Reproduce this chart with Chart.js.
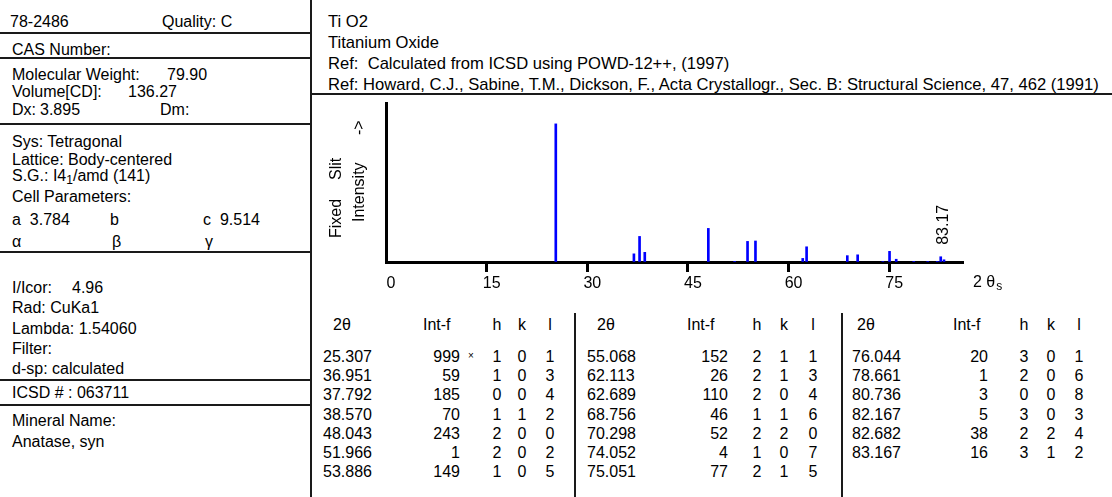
<!DOCTYPE html>
<html>
<head>
<meta charset="utf-8">
<script src="https://cdn.jsdelivr.net/npm/chart.js@4.4.1/dist/chart.umd.min.js"></script>
<style>
    html, body { margin: 0; padding: 0; background: #fff; }
    #card {
        position: relative;
        width: 1112px;
        height: 497px;
        overflow: hidden;
        font-family: "Liberation Sans", Arial, sans-serif;
        font-size: 16px;
        color: #000;
    }
    .t { position: absolute; white-space: nowrap; line-height: 18px; transform: translateY(-50%); }
    .r { transform: translate(-100%, -50%); }
    .c { transform: translate(-50%, -50%); }
    .wide { font-size: 16.6px; }
    .hl { position: absolute; height: 2px; background: #1a1a1a; }
    .vl { position: absolute; width: 2px; background: #1a1a1a; }
    .star { font-size: 10px; vertical-align: 5px; }
    sub { font-size: 12px; vertical-align: -3px; }
    #pattern { position: absolute; left: 312px; top: 96px; }
</style>
</head>
<body>
<div id="card">
    <canvas id="pattern" width="800" height="215"></canvas>
</div>
<script>
'use strict';

// reflection list: 2-theta (deg), relative intensity, Miller indices
var twoTheta = [25.307, 36.951, 37.792, 38.570, 48.043, 51.966, 53.886,
                55.068, 62.113, 62.689, 68.756, 70.298, 74.052, 75.051,
                76.044, 78.661, 80.736, 82.167, 82.682, 83.167];
var intensity = [999, 59, 185, 70, 243, 1, 149,
                 152, 26, 110, 46, 52, 4, 77,
                 20, 1, 3, 5, 38, 16];
var hIdx = [1, 1, 0, 1, 2, 2, 1,  2, 2, 2, 1, 2, 1, 2,  3, 2, 0, 3, 2, 3];
var kIdx = [0, 0, 0, 1, 0, 0, 0,  1, 1, 0, 1, 2, 0, 1,  0, 0, 0, 0, 2, 1];
var lIdx = [1, 3, 4, 2, 0, 2, 5,  1, 3, 4, 6, 0, 7, 5,  1, 6, 8, 3, 4, 2];

var xTicks = [0, 15, 30, 45, 60, 75];
var xMax = 86;
var yMax = 1150;

var card = document.getElementById('card');

function put(html, x, y, cls) {
    var el = document.createElement('div');
    el.className = 't' + (cls ? ' ' + cls : '');
    el.style.left = x + 'px';
    el.style.top = y + 'px';
    el.innerHTML = html;
    card.appendChild(el);
    return el;
}

function hline(x, y, w) {
    var el = document.createElement('div');
    el.className = 'hl';
    el.style.left = x + 'px';
    el.style.top = (y - 1) + 'px';
    el.style.width = w + 'px';
    card.appendChild(el);
}

function vline(x, y, h) {
    var el = document.createElement('div');
    el.className = 'vl';
    el.style.left = (x - 1) + 'px';
    el.style.top = y + 'px';
    el.style.height = h + 'px';
    card.appendChild(el);
}

// left column of the card
put('78-2486', 10, 22);
put('Quality: C', 162, 22);
put('CAS Number:', 12, 50);
put('Molecular Weight:', 12, 75);
put('79.90', 167, 75);
put('Volume[CD]:', 12, 92);
put('136.27', 128, 92);
put('Dx:', 12, 110);
put('3.895', 40, 110);
put('Dm:', 160, 110);
put('Sys: Tetragonal', 12, 142);
put('Lattice: Body-centered', 12, 160);
put('S.G.: I4<sub>1</sub>/amd (141)', 12, 178);
put('Cell Parameters:', 12, 197);
put('a&nbsp; 3.784', 12, 220);
put('b', 110, 220);
put('c&nbsp; 9.514', 203, 220);
put('α', 12, 242);
put('β', 112, 242);
put('γ', 205, 242);
put('I/Icor:', 12, 288);
put('4.96', 72, 288);
put('Rad: CuKa1', 12, 308);
put('Lambda: 1.54060', 12, 329);
put('Filter:', 12, 349);
put('d-sp: calculated', 12, 369);
put('ICSD # : 063711', 12, 393);
put('Mineral Name:', 12, 421);
put('Anatase, syn', 12, 442);

hline(0, 33, 311);
hline(0, 58, 311);
hline(0, 124, 311);
hline(0, 252, 311);
hline(0, 380, 311);
hline(0, 405, 311);
vline(311, 0, 497);

// header of the right part
put('Ti O2', 328, 22, 'wide');
put('Titanium Oxide', 328, 43, 'wide');
put('Ref:&nbsp; Calculated from ICSD using POWD-12++, (1997)', 328, 64, 'wide');
put('Ref: Howard, C.J., Sabine, T.M., Dickson, F., Acta Crystallogr., Sec. B: Structural Science, 47, 462 (1991)', 328, 85, 'wide');
hline(311, 94, 801);

// reflection table, three blocks of seven rows
var cols = [
    { tt: 323, hd: 333, ih: 423, iv: 460, h: 497, k: 522, l: 550 },
    { tt: 587, hd: 597, ih: 687, iv: 728, h: 757, k: 784, l: 813 },
    { tt: 852, hd: 857, ih: 953, iv: 988, h: 1024, k: 1051, l: 1079 }
];
var perBlock = 7;
var strongest = intensity.indexOf(Math.max.apply(null, intensity));

cols.forEach(function(c) {
    put('2θ', c.hd, 325);
    put('Int-f', c.ih, 325);
    put('h', c.h, 325, 'c');
    put('k', c.k, 325, 'c');
    put('l', c.l, 325, 'c');
});

twoTheta.forEach(function(tt, i) {
    var c = cols[Math.floor(i / perBlock)];
    var y = 357 + (i % perBlock) * 19.2;
    put(tt.toFixed(3), c.tt, y);
    put(String(intensity[i]), c.iv, y, 'r');
    if (i === strongest) {
        put('<span class="star">×</span>', c.iv + 8, y);
    }
    put(String(hIdx[i]), c.h, y, 'c');
    put(String(kIdx[i]), c.k, y, 'c');
    put(String(lIdx[i]), c.l, y, 'c');
});

vline(575, 313, 184);
vline(842, 313, 184);

// stick pattern
var FONT = '16px "Liberation Sans", Arial, sans-serif';

var sideTitle = {
    id: 'sideTitle',
    afterDraw: function(chart) {
        var ctx = chart.ctx;
        var a = chart.chartArea;
        var words = [['Fixed', -49, -24], ['Slit', -49, -82], ['Intensity', -26, -40], ['->', -26, -127]];
        ctx.save();
        ctx.fillStyle = '#000';
        ctx.font = FONT;
        ctx.textBaseline = 'middle';
        ctx.textAlign = 'left';
        words.forEach(function(w) {
            ctx.save();
            ctx.translate(a.left + w[1], a.bottom + w[2]);
            ctx.rotate(-Math.PI / 2);
            ctx.fillText(w[0], 0, 0);
            ctx.restore();
        });
        // axis name right of the scale
        ctx.fillText('2 θ', a.right + 10, a.bottom + 21);
        var wd = ctx.measureText('2 θ').width;
        ctx.font = '12px "Liberation Sans", Arial, sans-serif';
        ctx.fillText('s', a.right + 11 + wd, a.bottom + 25);
        ctx.restore();
    }
};

// the last line of the list gets its position printed above it
var peakLabel = {
    id: 'peakLabel',
    afterDatasetsDraw: function(chart) {
        var ctx = chart.ctx;
        var i = twoTheta.length - 1;
        var x = chart.scales.x.getPixelForValue(twoTheta[i]);
        var y = chart.scales.y.getPixelForValue(intensity[i]);
        ctx.save();
        ctx.fillStyle = '#000';
        ctx.font = FONT;
        ctx.textBaseline = 'middle';
        ctx.textAlign = 'left';
        ctx.translate(x, y - 15);
        ctx.rotate(-Math.PI / 2);
        ctx.fillText(twoTheta[i].toFixed(2), 0, 0);
        ctx.restore();
    }
};

new Chart(document.getElementById('pattern'), {
    type: 'bar',
    data: {
        datasets: [{
            data: twoTheta.map(function(tt, i) { return { x: tt, y: intensity[i] }; }),
            backgroundColor: '#0000ff',
            borderWidth: 0,
            barThickness: 2
        }]
    },
    options: {
        responsive: false,
        animation: false,
        devicePixelRatio: 1,
        layout: { padding: { left: 74, right: 149, top: 7, bottom: 4 } },
        plugins: { legend: { display: false }, tooltip: { enabled: false } },
        scales: {
            x: {
                type: 'linear',
                min: 0,
                max: xMax,
                offset: false,
                afterBuildTicks: function(scale) {
                    scale.ticks = xTicks.map(function(v) { return { value: v }; });
                },
                afterFit: function(scale) { scale.height = 45; },
                grid: {
                    offset: false,
                    drawOnChartArea: false,
                    drawTicks: true,
                    tickLength: 10,
                    tickWidth: 3,
                    tickColor: function(ctx) { return ctx.tick && ctx.tick.value === 0 ? 'rgba(0,0,0,0)' : '#000'; }
                },
                border: { display: true, color: '#000', width: 3 },
                ticks: {
                    color: '#000',
                    font: { family: '"Liberation Sans", Arial, sans-serif', size: 16 },
                    padding: 2,
                    labelOffset: 5,
                    maxRotation: 0,
                    autoSkip: false
                }
            },
            y: {
                min: 0,
                max: yMax,
                afterFit: function(scale) { scale.width = 0; },
                grid: { drawOnChartArea: false, drawTicks: false },
                border: { display: true, color: '#000', width: 3 },
                ticks: { display: false }
            }
        }
    },
    plugins: [sideTitle, peakLabel]
});
</script>
</body>
</html>
